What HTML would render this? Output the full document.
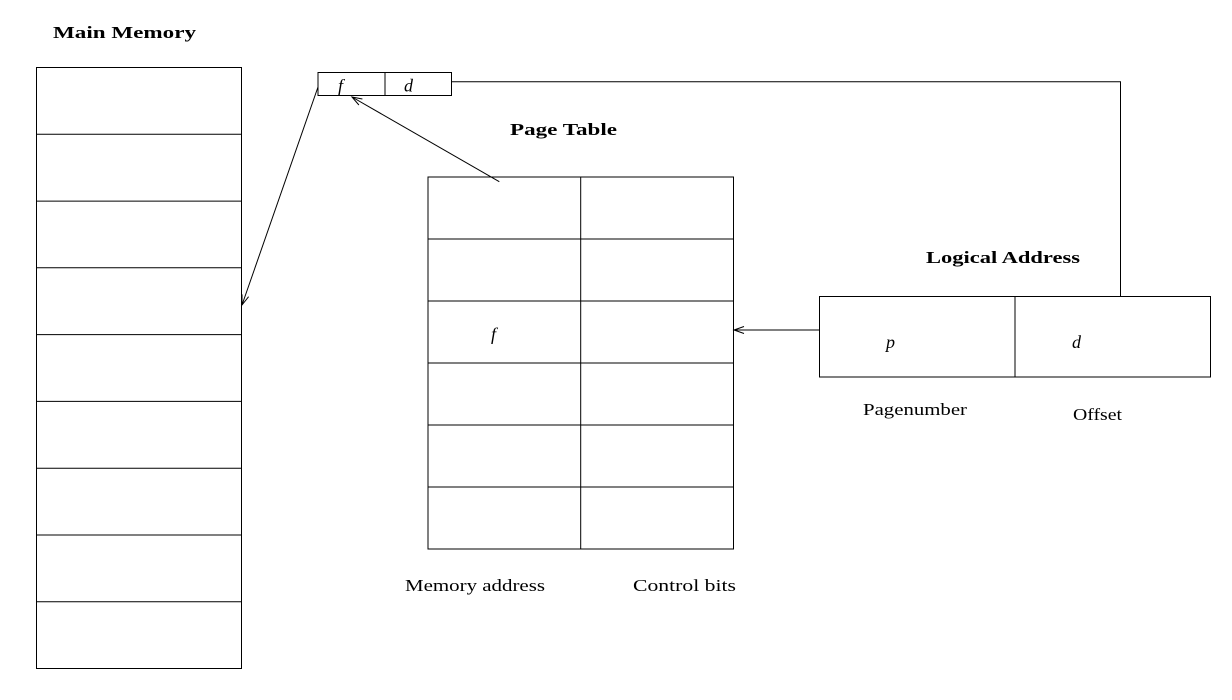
<!DOCTYPE html>
<html>
<head>
<meta charset="utf-8">
<style>
  html,body{margin:0;padding:0;background:#fff;}
  svg{display:block;}
  text{font-family:"Liberation Serif",serif;fill:#000;}
  .b{font-weight:bold;font-size:17px;}
  .r{font-size:17px;}
  .m{font-style:italic;font-size:18px;}
</style>
</head>
<body>
<svg width="1232" height="700" viewBox="0 0 1232 700" xmlns="http://www.w3.org/2000/svg">
  <g stroke="#000" stroke-width="1" fill="none">
    <!-- Main memory -->
    <rect x="36.5" y="67.5" width="205" height="601"/>
    <line x1="36.5" y1="134.3" x2="241.5" y2="134.3"/>
    <line x1="36.5" y1="201.1" x2="241.5" y2="201.1"/>
    <line x1="36.5" y1="267.8" x2="241.5" y2="267.8"/>
    <line x1="36.5" y1="334.6" x2="241.5" y2="334.6"/>
    <line x1="36.5" y1="401.4" x2="241.5" y2="401.4"/>
    <line x1="36.5" y1="468.2" x2="241.5" y2="468.2"/>
    <line x1="36.5" y1="535" x2="241.5" y2="535"/>
    <line x1="36.5" y1="601.7" x2="241.5" y2="601.7"/>

    <!-- f d box -->
    <rect x="318" y="72.5" width="133.5" height="23"/>
    <line x1="385" y1="72.5" x2="385" y2="95.5"/>
    <polyline points="451.5,81.7 1120.5,81.7 1120.5,296.5"/>

    <!-- Page table -->
    <rect x="428" y="177" width="305.5" height="372"/>
    <line x1="580.7" y1="177" x2="580.7" y2="549"/>
    <line x1="428" y1="239" x2="733.5" y2="239"/>
    <line x1="428" y1="301" x2="733.5" y2="301"/>
    <line x1="428" y1="363" x2="733.5" y2="363"/>
    <line x1="428" y1="425" x2="733.5" y2="425"/>
    <line x1="428" y1="487" x2="733.5" y2="487"/>

    <!-- Logical address -->
    <rect x="819.5" y="296.5" width="391" height="80.5"/>
    <line x1="1015" y1="296.5" x2="1015" y2="377"/>

    <!-- Arrows -->
    <line x1="318" y1="87" x2="242" y2="305"/>
    <polyline points="242,294.4 242,305 248.6,296.7"/>

    <line x1="499.3" y1="181.7" x2="352" y2="97"/>
    <polyline points="362.4,99 352,97 358.9,105"/>

    <line x1="819.5" y1="330" x2="734" y2="330"/>
    <polyline points="744,326.5 734,330 744,333.5"/>
  </g>

  <text class="b" x="53" y="38" textLength="143" lengthAdjust="spacingAndGlyphs">Main Memory</text>
  <text class="b" x="510" y="135" textLength="107" lengthAdjust="spacingAndGlyphs">Page Table</text>
  <text class="b" x="926" y="263" textLength="154" lengthAdjust="spacingAndGlyphs">Logical Address</text>

  <text class="m" x="338" y="91.5">f</text>
  <text class="m" x="404" y="91.5">d</text>
  <text class="m" x="491" y="340">f</text>
  <text class="m" x="886" y="348">p</text>
  <text class="m" x="1072" y="348">d</text>

  <text class="r" x="863" y="415" textLength="104" lengthAdjust="spacingAndGlyphs">Pagenumber</text>
  <text class="r" x="1073" y="420" textLength="49" lengthAdjust="spacingAndGlyphs">Offset</text>
  <text class="r" x="405" y="591" textLength="140" lengthAdjust="spacingAndGlyphs">Memory address</text>
  <text class="r" x="633" y="591" textLength="103" lengthAdjust="spacingAndGlyphs">Control bits</text>
</svg>
</body>
</html>
